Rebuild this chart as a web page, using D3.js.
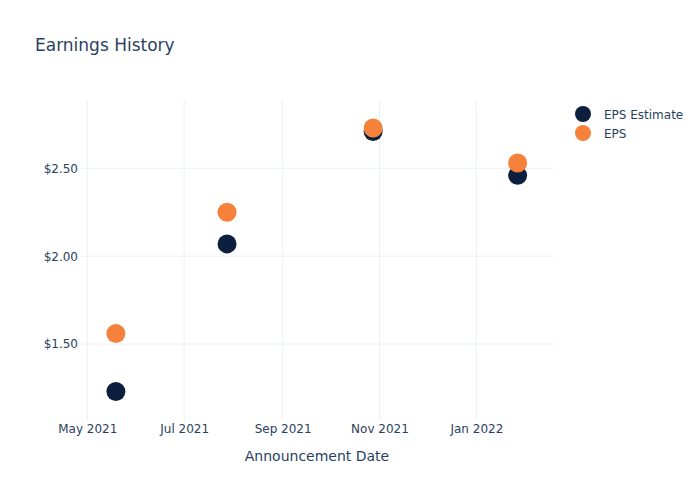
<!DOCTYPE html>
<html>
<head>
<meta charset="utf-8">
<script src="https://cdn.jsdelivr.net/npm/d3@7"></script>
<style>
  body { margin: 0; background: #fff; }
  text { font-family: "DejaVu Sans", Verdana, sans-serif; }
</style>
</head>
<body>
<div id="chart"></div>
<script>
const dates = ["2021-05-19", "2021-07-28", "2021-10-28", "2022-01-27"];
const epsEstimate = [1.23, 2.07, 2.71, 2.46];
const eps = [1.56, 2.25, 2.73, 2.53];
const yTicks = [1.5, 2.0, 2.5];
const xTicks = ["2021-05-01", "2021-07-01", "2021-09-01", "2021-11-01", "2022-01-01"];
const seriesNames = ["EPS Estimate", "EPS"];
const seriesColors = ["#0c1f3f", "#f5813a"];

const W = 700, H = 500;
const m = { l: 80, r: 146, t: 100, b: 80 };
const parse = d3.utcParse("%Y-%m-%d");
const dayMs = 86400000;

const svg = d3.select("#chart").append("svg").attr("width", W).attr("height", H);

const x = d3.scaleUtc()
  .domain([new Date(parse("2021-05-01").getTime() - 4.6 * dayMs), new Date(parse("2022-01-01").getTime() + 48.9 * dayMs)])
  .range([m.l, W - m.r]);
const y = d3.scaleLinear().domain([1.0675, 2.889]).range([H - m.b, m.t]);

const grid = svg.append("g");
grid.selectAll("line.v").data(xTicks).join("line")
  .attr("x1", d => x(parse(d))).attr("x2", d => x(parse(d)))
  .attr("y1", m.t).attr("y2", H - m.b)
  .attr("stroke", "#ebf0f8").attr("stroke-width", 1);
grid.selectAll("line.h").data(yTicks).join("line")
  .attr("y1", d => y(d)).attr("y2", d => y(d))
  .attr("x1", m.l).attr("x2", W - m.r)
  .attr("stroke", "#ebf0f8").attr("stroke-width", 1);

const xAxis = d3.axisBottom(x).tickValues(xTicks.map(parse)).tickFormat(d3.utcFormat("%b %Y")).tickSize(0).tickPadding(4.5);
const gx = svg.append("g").attr("transform", `translate(0,${H - m.b})`).call(xAxis);
gx.select(".domain").remove();
gx.selectAll("text").attr("fill", "#2a3f5f").style("font-size", "12px");

const yAxis = d3.axisLeft(y).tickValues(yTicks).tickFormat(d => "$" + d3.format(".2f")(d)).tickSize(0).tickPadding(2);
const gy = svg.append("g").attr("transform", `translate(${m.l},0)`).call(yAxis);
gy.select(".domain").remove();
gy.selectAll("text").attr("fill", "#2a3f5f").style("font-size", "12px");

const series = [epsEstimate, eps];
series.forEach((vals, i) => {
  svg.append("g").selectAll("circle").data(vals).join("circle")
    .attr("cx", (d, j) => x(parse(dates[j])))
    .attr("cy", d => y(d))
    .attr("r", 9.5)
    .attr("fill", seriesColors[i]);
});

svg.append("text").attr("x", 35).attr("y", 51).text("Earnings History")
  .attr("fill", "#2a3f5f").style("font-size", "17px");

svg.append("text").attr("x", (m.l + W - m.r) / 2).attr("y", 461).attr("text-anchor", "middle")
  .text("Announcement Date").attr("fill", "#2a3f5f").style("font-size", "14px");

const leg = svg.append("g");
seriesNames.forEach((n, i) => {
  const yy = 114 + i * 19;
  leg.append("circle").attr("cx", 583).attr("cy", yy).attr("r", 8).attr("fill", seriesColors[i]);
  leg.append("text").attr("x", 604).attr("y", yy + 4.5).text(n).attr("fill", "#2a3f5f").style("font-size", "12px");
});
</script>
</body>
</html>
